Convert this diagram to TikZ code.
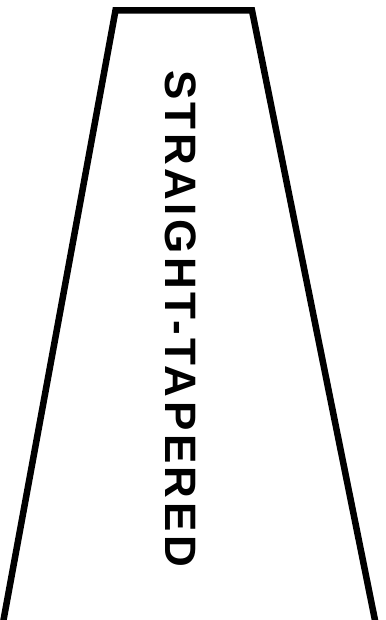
\documentclass[tikz,border=0pt]{standalone}
\usepackage{fontspec}
\setmainfont{Liberation Sans}
\usepackage{tikz}
\usetikzlibrary{positioning,calc}
\tikzset{
    taper/.style={
        draw=black, line width=6.5pt, line join=miter
    },
    tlabel/.style={
        rotate=-90, inner sep=0pt, text=black,
        font=\fontsize{44}{50}\selectfont\bfseries\addfontfeature{LetterSpace=8}
    },
}

\begin{document}
\begin{tikzpicture}[x=1pt, y=-1pt]

    \useasboundingbox (0,0) rectangle (385,620);
    \clip (0,0) rectangle (385,620);

    % corners of the tapered outline
    \coordinate (bl) at (-2,650);
    \coordinate (tl) at (115.5,10.5);
    \coordinate (tr) at (252,10.5);
    \coordinate (br) at (381,650);

    \draw [taper] (bl) -- (tl) -- (tr) -- (br);

    \node [tlabel] (name) at (180.5,318.5) {STRAIGHT-TAPERED};

\end{tikzpicture}
\end{document}
